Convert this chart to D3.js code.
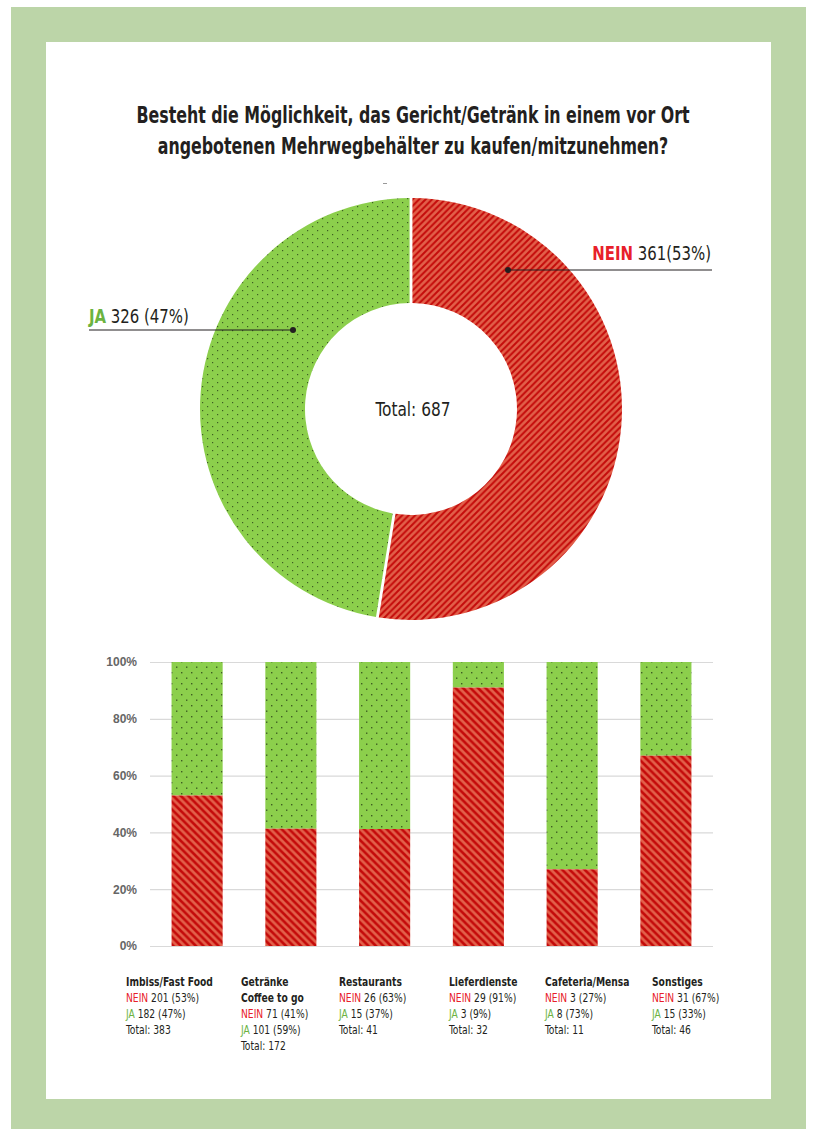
<!DOCTYPE html>
<html><head><meta charset="utf-8">
<script src="https://cdn.jsdelivr.net/npm/d3@7/dist/d3.min.js"></script>
<style>
html,body{margin:0;padding:0;background:#fff;}
svg text{font-family:"Liberation Sans Narrow","DejaVu Sans Condensed","Roboto Condensed",sans-serif;}
</style></head>
<body>
<script>
// ---- data ----
const titleLines = ["Besteht die Möglichkeit, das Gericht/Getränk in einem vor Ort", "angebotenen Mehrwegbehälter zu kaufen/mitzunehmen?"];
const donutKeys = ["NEIN", "JA"];
const donutValues = [361, 326];
const donutLabels = ["361(53%)", "326 (47%)"];
const donutTotal = "Total: 687";

const categories = ["Imbiss/Fast Food", "Getränke", "Restaurants", "Lieferdienste", "Cafeteria/Mensa", "Sonstiges"];
const categoryLines = [["Imbiss/Fast Food"], ["Getränke", "Coffee to go"], ["Restaurants"], ["Lieferdienste"], ["Cafeteria/Mensa"], ["Sonstiges"]];
const neinShare = [53, 41.3, 41.2, 91, 27, 67];   // bar heights
const neinText = ["201 (53%)", "71 (41%)", "26 (63%)", "29 (91%)", "3 (27%)", "31 (67%)"];
const jaText = ["182 (47%)", "101 (59%)", "15 (37%)", "3 (9%)", "8 (73%)", "15 (33%)"];
const totals = [383, 172, 41, 32, 11, 46];
const yTicks = [0, 20, 40, 60, 80, 100];

// ---- layout ----
const W = 815, H = 1129;
const labelX = [126, 241, 339, 449, 545, 652];
const RED = "#e8202a", GREEN = "#6cb33f", DARK = "#231f20";

const svg = d3.select("body").append("svg").attr("width", W).attr("height", H);
const defs = svg.append("defs");

// condensed text helper: text at (x,y) squeezed horizontally by k
function ctext(parent, x, y, k) {
  return parent.append("text").attr("x", 0).attr("y", 0)
    .attr("transform", `translate(${x},${y}) scale(${k},1)`);
}

// patterns
function stripe(id, dir, size, sw) {
  const p = defs.append("pattern").attr("id", id).attr("patternUnits", "userSpaceOnUse")
    .attr("width", size).attr("height", size);
  p.append("rect").attr("width", size).attr("height", size).attr("fill", "#e2604a");
  const g = p.append("g").attr("stroke", "#c40a0a").attr("stroke-width", sw).attr("stroke-linecap", "square");
  if (dir === "/") {
    g.append("line").attr("x1", 0).attr("y1", size).attr("x2", size).attr("y2", 0);
    g.append("line").attr("x1", -size/2).attr("y1", size/2).attr("x2", size/2).attr("y2", -size/2);
    g.append("line").attr("x1", size/2).attr("y1", size*1.5).attr("x2", size*1.5).attr("y2", size/2);
  } else {
    g.append("line").attr("x1", 0).attr("y1", 0).attr("x2", size).attr("y2", size);
    g.append("line").attr("x1", -size/2).attr("y1", size/2).attr("x2", size/2).attr("y2", size*1.5);
    g.append("line").attr("x1", size/2).attr("y1", -size/2).attr("x2", size*1.5).attr("y2", size/2);
  }
}
stripe("redDonut", "/", 6.5, 2);
stripe("redBar", "\\", 7.5, 2.6);

function dots(id, w, h, r) {
  const p = defs.append("pattern").attr("id", id).attr("patternUnits", "userSpaceOnUse")
    .attr("width", w).attr("height", h);
  p.append("rect").attr("width", w).attr("height", h).attr("fill", "#8ccf4c");
  p.append("rect").attr("x", 1).attr("y", 1).attr("width", r).attr("height", r).attr("fill", "#3e5e22");
  p.append("rect").attr("x", 1 + w/2).attr("y", 1 + h/2).attr("width", r).attr("height", r).attr("fill", "#3e5e22");
}
dots("greenDonut", 10, 8, 1.2);
dots("greenBar", 10, 11, 1.4);

// frame
svg.append("rect").attr("x", 11).attr("y", 7).attr("width", 795).attr("height", 1122).attr("fill", "#bcd5a8");
svg.append("rect").attr("x", 46).attr("y", 42).attr("width", 725).attr("height", 1057).attr("fill", "#fff");

// title
titleLines.forEach((l, i) => {
  ctext(svg, 413, 123 + i * 31, 0.765)
    .attr("text-anchor", "middle").attr("font-size", 23).attr("font-weight", "bold").attr("fill", DARK)
    .text(l);
});

// small mark
svg.append("line").attr("x1", 383).attr("x2", 387).attr("y1", 183.5).attr("y2", 183.5).attr("stroke", "#999").attr("stroke-width", 1);

// donut
const cx = 411, cy = 409, R = 211, r0 = 106;
const pie = d3.pie().sort(null).value(d => d);
const arcs = pie(donutValues);
const arc = d3.arc().innerRadius(r0).outerRadius(R).padAngle(0.012);
const dg = svg.append("g").attr("transform", `translate(${cx},${cy})`);
dg.selectAll("path").data(arcs).join("path")
  .attr("d", arc)
  .attr("fill", (d, i) => i === 0 ? "url(#redDonut)" : "url(#greenDonut)");
ctext(svg, cx + 2, 416, 0.9).attr("text-anchor", "middle")
  .attr("font-size", 19).attr("fill", DARK).text(donutTotal);

// donut labels
const lab = [
  {dot: [508, 270], line: [508, 712], text: [711, 260], anchor: "end"},
  {dot: [293, 330], line: [89, 293], text: [89, 323], anchor: "start"}
];
lab.forEach((L, i) => {
  svg.append("line").attr("x1", L.line[0]).attr("x2", L.line[1]).attr("y1", L.dot[1]).attr("y2", L.dot[1])
    .attr("stroke", DARK).attr("stroke-width", 1.2);
  svg.append("circle").attr("cx", L.dot[0]).attr("cy", L.dot[1]).attr("r", 3).attr("fill", DARK);
  const t = ctext(svg, L.text[0], L.text[1], 0.83).attr("text-anchor", L.anchor)
    .attr("font-size", 20).attr("fill", DARK);
  t.append("tspan").attr("font-weight", "bold").attr("fill", i === 0 ? RED : GREEN).text(donutKeys[i]);
  t.append("tspan").text(" " + donutLabels[i]);
});

// bar chart
const x = d3.scaleBand().domain(categories).range([150, 713]).paddingInner(0.455).paddingOuter(0.23);
const y = d3.scaleLinear().domain([0, 100]).range([946, 662]);
const gy = svg.append("g").attr("transform", "translate(150,0)")
  .call(d3.axisLeft(y).tickValues(yTicks).tickFormat(d => d + "%").tickSize(-563).tickPadding(13));
gy.select(".domain").remove();
gy.selectAll(".tick line").attr("stroke", "#d9d9d9").attr("stroke-width", 1.2);
gy.selectAll(".tick text").attr("font-size", 12).attr("font-weight", "bold").attr("fill", "#666")
  .style("font-family", "'Liberation Sans','DejaVu Sans',sans-serif");

const bars = svg.append("g");
bars.selectAll("rect.ja").data(categories).join("rect").attr("class", "ja")
  .attr("x", d => x(d)).attr("width", x.bandwidth())
  .attr("y", y(100)).attr("height", (d, i) => y(neinShare[i]) - y(100))
  .attr("fill", "url(#greenBar)");
bars.selectAll("rect.nein").data(categories).join("rect").attr("class", "nein")
  .attr("x", d => x(d)).attr("width", x.bandwidth())
  .attr("y", (d, i) => y(neinShare[i])).attr("height", (d, i) => y(0) - y(neinShare[i]))
  .attr("fill", "url(#redBar)");

// category labels
const fs = 12, lh = 16, kk = 0.85;
categories.forEach((c, i) => {
  const g = svg.append("g");
  let yy = 986;
  categoryLines[i].forEach(l => {
    ctext(g, labelX[i], yy, kk).attr("font-size", fs).attr("font-weight", "bold")
      .attr("fill", DARK).text(l);
    yy += lh;
  });
  const t1 = ctext(g, labelX[i], yy, kk).attr("font-size", fs).attr("fill", DARK);
  t1.append("tspan").attr("fill", RED).text("NEIN");
  t1.append("tspan").text(" " + neinText[i]);
  yy += lh;
  const t2 = ctext(g, labelX[i], yy, kk).attr("font-size", fs).attr("fill", DARK);
  t2.append("tspan").attr("fill", GREEN).text("JA");
  t2.append("tspan").text(" " + jaText[i]);
  yy += lh;
  ctext(g, labelX[i], yy, kk).attr("font-size", fs).attr("fill", DARK).text("Total: " + totals[i]);
});
</script>
</body></html>
